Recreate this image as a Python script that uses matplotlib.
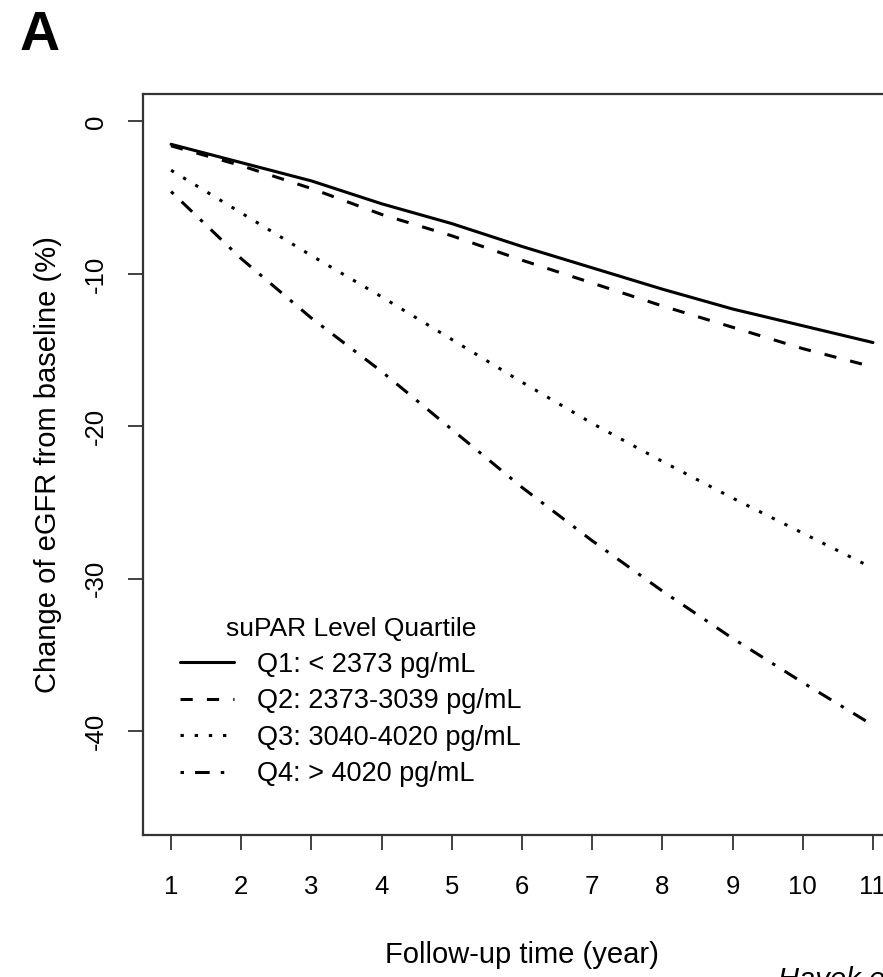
import matplotlib
matplotlib.use("Agg")
import matplotlib.pyplot as plt

# values (% change of eGFR from baseline)
YEARS = [1, 2, 3, 4, 5, 6, 7, 8, 9, 10, 11]
Q1 = [-1.5, -2.7, -3.9, -5.4, -6.7, -8.2, -9.6, -11.0, -12.3, -13.4, -14.5]
Q2 = [-1.6, -2.9, -4.4, -6.1, -7.5, -9.1, -10.6, -12.1, -13.5, -14.9, -16.1]
Q3 = [-3.2, -6.0, -8.8, -11.5, -14.3, -17.1, -19.8, -22.3, -24.7, -27.0, -29.3]
Q4 = [-4.6, -9.0, -12.9, -16.4, -20.2, -24.0, -27.5, -30.8, -33.9, -36.8, -39.6]
LABELS = ["Q1: < 2373 pg/mL", "Q2: 2373-3039 pg/mL",
          "Q3: 3040-4020 pg/mL", "Q4: > 4020 pg/mL"]
YTICKS = [0, -10, -20, -30, -40]

# R-like line types (dash lengths in points)
STYLES = ["-", (0, (8.8, 10.2)), (0, (2.4, 7.8)), (0, (2.5, 8, 10.5, 8))]

plt.rcParams.update({
    "font.family": ["Liberation Sans", "DejaVu Sans"],
    "lines.scale_dashes": False,
    "axes.unicode_minus": False,
    "text.color": "black",
})

W, H = 883, 977
fig = plt.figure(figsize=(W / 100, H / 100), dpi=100)
fig.patch.set_facecolor("white")
# plot region runs past the right edge (reference is cropped there)
ax = fig.add_axes([143 / W, 142 / H, 758 / W, 741 / H])

handles = []
for ys, ls in zip([Q1, Q2, Q3, Q4], STYLES):
    (ln,) = ax.plot(YEARS, ys, color="black", linewidth=2.2, linestyle=ls,
                    dash_capstyle="butt", solid_capstyle="round")
    handles.append(ln)

ax.set_xlim(0.6, 11.4)
ax.set_ylim(-46.8, 1.8)
ax.set_xticks(YEARS)
ax.set_yticks(YTICKS)
ax.tick_params(length=11, width=1.3, color="#333333", labelsize=18.5)
ax.tick_params(axis="x", pad=18)
ax.tick_params(axis="y", pad=14, labelrotation=90)
for lab in ax.get_yticklabels():
    lab.set_va("center")
for s in ax.spines.values():
    s.set_linewidth(1.6)
    s.set_color("#333333")

ax.set_xlabel("Follow-up time (year)", fontsize=21, labelpad=30)
ax.set_ylabel("Change of eGFR from baseline (%)", fontsize=21, labelpad=16)

ax.legend(handles, LABELS, title="suPAR Level Quartile", loc="upper left",
          bbox_to_anchor=(180 / W, 1 - 617 / H), bbox_transform=fig.transFigure,
          frameon=False, fontsize=19.5, title_fontsize=19, handlelength=2.0,
          handletextpad=0.85, labelspacing=0.39, borderpad=0, borderaxespad=0)

fig.text(20 / W, 1 - 10 / H, "A", fontsize=40, fontweight="bold",
         ha="left", va="top")
# cropped citation at the bottom edge
fig.text(778 / W, 1 - 966 / H, "Hayek et al", fontsize=21, style="italic",
         ha="left", va="top")

fig.savefig("out.png", dpi=100)
